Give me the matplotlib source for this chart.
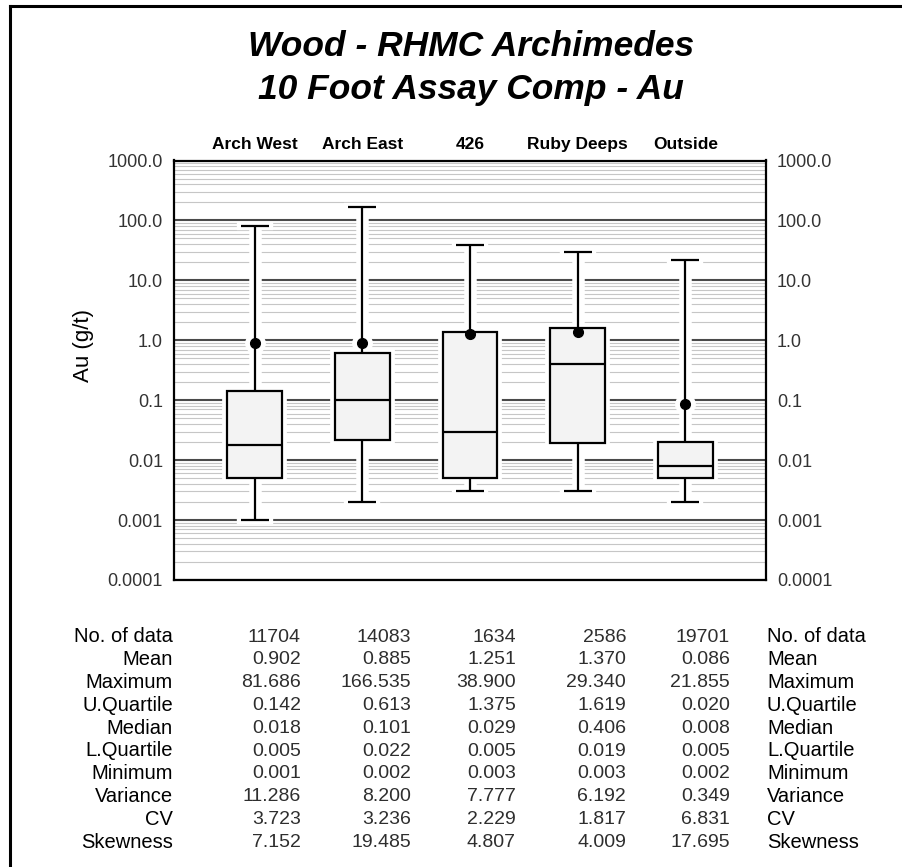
import matplotlib
matplotlib.use("Agg")
import matplotlib.pyplot as plt
from matplotlib.patches import Rectangle
from matplotlib.lines import Line2D
from matplotlib.ticker import LogLocator, FixedLocator, FixedFormatter, NullFormatter

plt.rcParams['font.family'] = ['Liberation Sans', 'DejaVu Sans']

# ---- statistics per domain -------------------------------------------------
domains = ["Arch West", "Arch East", "426", "Ruby Deeps", "Outside"]
n_data = [11704, 14083, 1634, 2586, 19701]
mean = [0.902, 0.885, 1.251, 1.370, 0.086]
maximum = [81.686, 166.535, 38.900, 29.340, 21.855]
u_quartile = [0.142, 0.613, 1.375, 1.619, 0.020]
median = [0.018, 0.101, 0.029, 0.406, 0.008]
l_quartile = [0.005, 0.022, 0.005, 0.019, 0.005]
minimum = [0.001, 0.002, 0.003, 0.003, 0.002]
variance = [11.286, 8.200, 7.777, 6.192, 0.349]
cv = [3.723, 3.236, 2.229, 1.817, 6.831]
skewness = [7.152, 19.485, 4.807, 4.009, 17.695]

y_ticks = [1e-4, 1e-3, 1e-2, 1e-1, 1, 10, 100, 1000]
y_tick_labels = ["0.0001", "0.001", "0.01", "0.1", "1.0", "10.0", "100.0", "1000.0"]

row_names = ["No. of data", "Mean", "Maximum", "U.Quartile", "Median",
             "L.Quartile", "Minimum", "Variance", "CV", "Skewness"]
row_values = [n_data, mean, maximum, u_quartile, median,
              l_quartile, minimum, variance, cv, skewness]

# ---- figure in pixel units -------------------------------------------------
W, H = 903, 867
fig = plt.figure(figsize=(W / 100, H / 100), dpi=100)


def fx(px):
    return px / W


def fy(py):
    return 1 - py / H


ax = fig.add_axes([fx(174), fy(580), fx(766) - fx(174), fy(160.5) - fy(580)])
ax.set_yscale('log')
ax.set_ylim(1e-4, 1e3)
ax.set_xlim(-0.75, 4.75)

ax.yaxis.set_major_locator(FixedLocator(y_ticks))
ax.yaxis.set_major_formatter(FixedFormatter(y_tick_labels))
ax.yaxis.set_minor_locator(LogLocator(base=10, subs=range(2, 10), numticks=20))
ax.yaxis.set_minor_formatter(NullFormatter())
ax.set_axisbelow(True)
ax.grid(which='major', axis='y', color='#4a4a4a', lw=1.5)
ax.grid(which='minor', axis='y', color='#c6c6c6', lw=0.8)
ax.tick_params(axis='y', which='both', left=True, right=True,
               labelleft=True, labelright=True, length=0, pad=8,
               labelsize=13, labelcolor='#333333')

ax.set_xticks(range(len(domains)))
ax.set_xticklabels(domains, fontweight='bold', fontsize=12.5)
ax.tick_params(axis='x', top=True, bottom=False, labeltop=True,
               labelbottom=False, length=0, pad=6)

for s in ax.spines.values():
    s.set_linewidth(1.6)
    s.set_color('black')

box_w = 0.51
cap_w = 0.26
lw = 1.6

for i in range(len(domains)):
    # white clearances cut into the grid around every mark
    ax.add_patch(Rectangle((i - box_w / 2, l_quartile[i]), box_w,
                           u_quartile[i] - l_quartile[i], facecolor='white',
                           edgecolor='white', lw=7, zorder=2))
    ax.plot([i, i], [minimum[i], maximum[i]], color='white', lw=9,
            solid_capstyle='butt', zorder=2)
    for v in (minimum[i], maximum[i]):
        ax.plot([i - cap_w / 2, i + cap_w / 2], [v, v], color='white', lw=6,
                solid_capstyle='projecting', zorder=2)
    ax.plot(i, mean[i], 'o', color='white', ms=14, zorder=2)

    # whiskers and caps
    ax.plot([i, i], [minimum[i], l_quartile[i]], color='black', lw=lw,
            solid_capstyle='butt', zorder=3)
    ax.plot([i, i], [u_quartile[i], maximum[i]], color='black', lw=lw,
            solid_capstyle='butt', zorder=3)
    for v in (minimum[i], maximum[i]):
        ax.plot([i - cap_w / 2, i + cap_w / 2], [v, v], color='black', lw=lw,
                solid_capstyle='butt', zorder=3)

    # box and median
    ax.add_patch(Rectangle((i - box_w / 2, l_quartile[i]), box_w,
                           u_quartile[i] - l_quartile[i], facecolor='#f3f3f3',
                           edgecolor='black', lw=lw, zorder=4))
    ax.plot([i - box_w / 2, i + box_w / 2], [median[i], median[i]],
            color='black', lw=lw, solid_capstyle='butt', zorder=5)

    # mean
    ax.plot(i, mean[i], 'o', color='black', ms=7, zorder=6)

# ---- titles ---------------------------------------------------------------
fig.text(fx(471), fy(46), "Wood - RHMC Archimedes", ha='center', va='center',
         fontsize=25.5, fontweight='bold', fontstyle='italic')
fig.text(fx(471), fy(89), "10 Foot Assay Comp - Au", ha='center', va='center',
         fontsize=25.5, fontweight='bold', fontstyle='italic')
fig.text(fx(84), fy(345), "Au (g/t)", rotation=90, ha='center', va='center',
         fontsize=16)

# ---- statistics table -----------------------------------------------------
col_right = [301, 411, 516, 626, 730]
row_top = 637
row_step = 22.8
for r, (name, vals) in enumerate(zip(row_names, row_values)):
    y = fy(row_top + r * row_step)
    fig.text(fx(173), y, name, ha='right', va='center', fontsize=14.5,
             color='black')
    fig.text(fx(767), y, name, ha='left', va='center', fontsize=14.5,
             color='black')
    for c, v in enumerate(vals):
        txt = f"{v:d}" if isinstance(v, int) else f"{v:.3f}"
        fig.text(fx(col_right[c]), y, txt, ha='right', va='center',
                 fontsize=14, color='#2e2e2e')

# ---- page frame (top and left edges) --------------------------------------
fig.add_artist(Line2D([fx(10), 1.0], [fy(6), fy(6)], color='black', lw=2.2,
                      transform=fig.transFigure))
fig.add_artist(Line2D([fx(10), fx(10)], [fy(6), 0.0], color='black', lw=2.2,
                      transform=fig.transFigure))

fig.savefig("out.png", dpi=100)
